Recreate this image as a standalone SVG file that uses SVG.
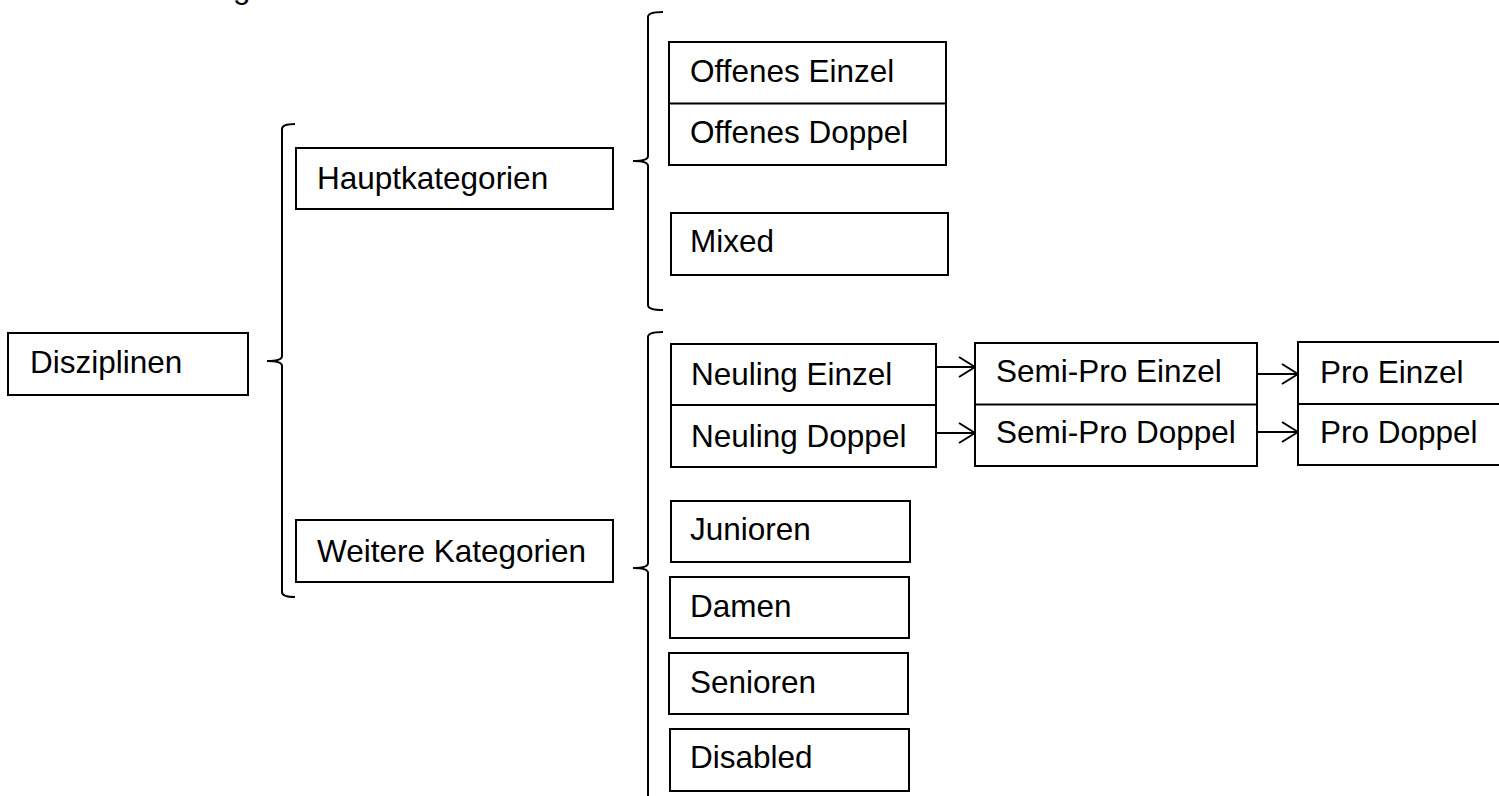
<svg xmlns="http://www.w3.org/2000/svg" width="1499" height="796" viewBox="0 0 1499 796">
<style>
.box{fill:#fff;stroke:#000;stroke-width:2}
.div{stroke:#000;stroke-width:2}
.t{font-family:"Liberation Sans",Arial,sans-serif;font-size:31.5px;fill:#000}
.br{fill:none;stroke:#000;stroke-width:2}
.ar{fill:none;stroke:#000;stroke-width:2}
</style>
<defs>
<marker id="head" viewBox="0 0 18 22" refX="17" refY="11" markerWidth="18" markerHeight="22" markerUnits="userSpaceOnUse" orient="auto">
<polyline points="1,1 17,11 1,21" fill="none" stroke="#000" stroke-width="2"/>
</marker>
</defs>
<rect width="1499" height="796" fill="#fff"/>
<text class="t" x="233" y="-2.5">g</text>
<g id="connectors">
<path class="br" d="M295,124 Q282,124 282,129 L282,356 Q282,361 267,361 Q282,361 282,366 L282,592 Q282,597 295,597"/>
<path class="br" d="M663,12 Q648,12 648,17 L648,156 Q648,161 633,161 Q648,161 648,166 L648,305 Q648,310 663,310"/>
<path class="br" d="M663,332 Q648,332 648,337 L648,563 Q648,568 633,568 Q648,568 648,573 L648,800"/>
<line class="ar" x1="936" y1="367" x2="975" y2="367" marker-end="url(#head)"/>
<line class="ar" x1="936" y1="433" x2="975" y2="433" marker-end="url(#head)"/>
<line class="ar" x1="1257" y1="374" x2="1298" y2="374" marker-end="url(#head)"/>
<line class="ar" x1="1257" y1="432" x2="1298" y2="432" marker-end="url(#head)"/>
</g>
<g id="disziplinen">
<rect class="box" x="8" y="333" width="240" height="62"/>
<text class="t" x="30" y="373">Disziplinen</text>
</g>
<g id="hauptkategorien">
<rect class="box" x="296" y="148" width="317" height="61"/>
<text class="t" x="317" y="189">Hauptkategorien</text>
</g>
<g id="weitere">
<rect class="box" x="296" y="520" width="317" height="62"/>
<text class="t" x="317" y="562">Weitere Kategorien</text>
</g>
<g id="offenes">
<rect class="box" x="669" y="42" width="277" height="123"/>
<line class="div" x1="669" y1="103.5" x2="946" y2="103.5"/>
<text class="t" x="690" y="82">Offenes Einzel</text>
<text class="t" x="690" y="143">Offenes Doppel</text>
</g>
<g id="mixed">
<rect class="box" x="671" y="213" width="277" height="62"/>
<text class="t" x="690" y="252">Mixed</text>
</g>
<g id="neuling">
<rect class="box" x="671" y="344" width="265" height="123"/>
<line class="div" x1="671" y1="405" x2="936" y2="405"/>
<text class="t" x="691" y="385">Neuling Einzel</text>
<text class="t" x="691" y="447">Neuling Doppel</text>
</g>
<g id="semipro">
<rect class="box" x="975" y="343" width="282" height="123"/>
<line class="div" x1="975" y1="404.5" x2="1257" y2="404.5"/>
<text class="t" x="996" y="382">Semi-Pro Einzel</text>
<text class="t" x="996" y="443">Semi-Pro Doppel</text>
</g>
<g id="pro">
<rect class="box" x="1298" y="342" width="210" height="123"/>
<line class="div" x1="1298" y1="404" x2="1508" y2="404"/>
<text class="t" x="1320" y="383">Pro Einzel</text>
<text class="t" x="1320" y="443">Pro Doppel</text>
</g>
<g id="junioren">
<rect class="box" x="671" y="501" width="239" height="61"/>
<text class="t" x="690" y="540">Junioren</text>
</g>
<g id="damen">
<rect class="box" x="670" y="577" width="239" height="61"/>
<text class="t" x="690" y="617">Damen</text>
</g>
<g id="senioren">
<rect class="box" x="669" y="653" width="239" height="61"/>
<text class="t" x="690" y="693">Senioren</text>
</g>
<g id="disabled">
<rect class="box" x="670" y="729" width="239" height="62"/>
<text class="t" x="690" y="768">Disabled</text>
</g>
</svg>
